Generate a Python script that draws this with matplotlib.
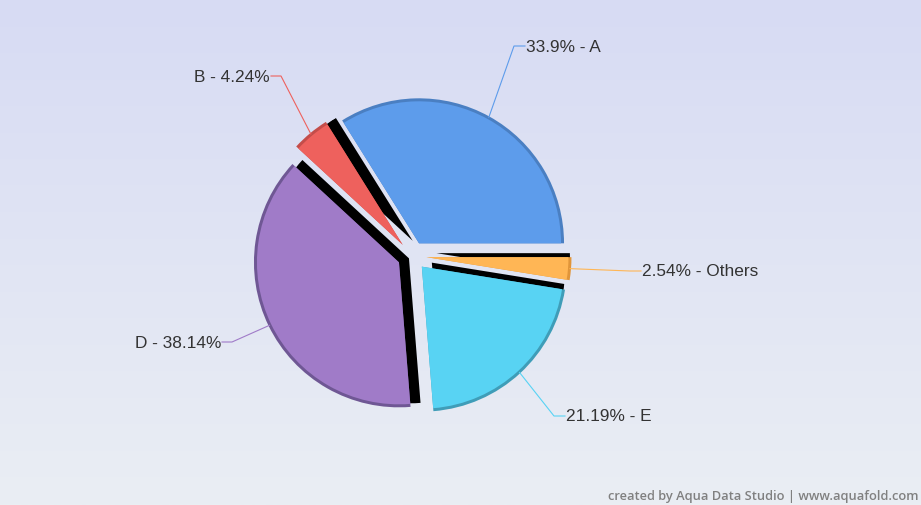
import numpy as np
import matplotlib
matplotlib.use('Agg')
import matplotlib.pyplot as plt
from matplotlib.colors import LinearSegmentedColormap
from matplotlib.patches import Circle

# ---- data ----
categories = ['A', 'B', 'D', 'E', 'Others']
shares = [33.9, 4.24, 38.14, 21.19, 2.54]
label_texts = ['33.9% - A', 'B - 4.24%', 'D - 38.14%', '21.19% - E', '2.54% - Others']

# ---- style ----
colors = ['#5d9ceb', '#ee615d', '#a07bc8', '#58d3f3', '#ffb655']
rim_colors = ['#4a7fc2', '#c44d4a', '#6f5794', '#3f9db8', '#e0953a']
# label text positions (pixels from top-left) and alignment
label_pos = [(526, 47, 'left'), (270, 77, 'right'), (221, 343, 'right'),
             (566, 417, 'left'), (642, 272, 'left')]

W, H = 921, 506
fig = plt.figure(figsize=(W / 100, H / 100), dpi=100)
ax = fig.add_axes([0, 0, 1, 1])

grad = np.linspace(0, 1, 256)[:, None]
bg = LinearSegmentedColormap.from_list('bg', ['#d7dbf4', '#eaeef3'])
ax.imshow(grad, extent=[0, W, 0, H], cmap=bg, aspect='auto', origin='upper', zorder=0)

cx, cy = 412, H - 257
R = 145
gap = 14.5
sx, sy = 10, 4
n = len(shares)

# shadow (side walls)
shadow_w, _ = ax.pie(shares, explode=[gap] * n, radius=R, center=(cx + sx, cy + sy),
                     colors=['black'] * n, startangle=0, counterclock=True,
                     wedgeprops=dict(linewidth=0), frame=True)
# rim
rim_w, _ = ax.pie(shares, explode=[gap] * n, radius=R, center=(cx, cy),
                  colors=rim_colors, startangle=0, counterclock=True,
                  wedgeprops=dict(linewidth=0), frame=True)
# face
Rf = R - 3
face_w, _ = ax.pie(shares, explode=[gap] * n, radius=Rf, center=(cx, cy),
                   colors=colors, startangle=0, counterclock=True,
                   wedgeprops=dict(linewidth=0), frame=True)

for sw, rw in zip(shadow_w, rim_w):
    clip = Circle(rw.center, R - 1.5, transform=ax.transData)
    sw.set_clip_on(True)
    sw.set_clip_path(clip)

total = sum(shares)
cum = np.cumsum(shares)
for i in range(n):
    mid = np.deg2rad(360 * (cum[i] - shares[i] / 2) / total)
    px, py = rim_w[i].center
    ax0 = px + (R - 1) * np.cos(mid)
    ay0 = py + (R - 1) * np.sin(mid)
    tx, ty, ha = label_pos[i]
    ty = H - ty
    if ha == 'left':
        ex = tx - 12
        lx = tx - 1
    else:
        ex = tx + 11
        lx = tx + 1
    ax.plot([ax0, ex, lx], [ay0, ty, ty], color=colors[i], lw=0.8, zorder=5)
    ax.text(tx, ty, label_texts[i], ha=ha, va='center', fontsize=12.4,
            family='Liberation Sans', color='#333333', zorder=6)

ax.text(918, H - 497, 'created by Aqua Data Studio | www.aquafold.com', ha='right',
        va='center', fontsize=9.3, family='Open Sans', fontweight='semibold',
        color='#808080', zorder=6)

ax.set_xlim(0, W)
ax.set_ylim(0, H)
ax.set_aspect('auto')
ax.axis('off')
fig.savefig('out.png', dpi=100)
